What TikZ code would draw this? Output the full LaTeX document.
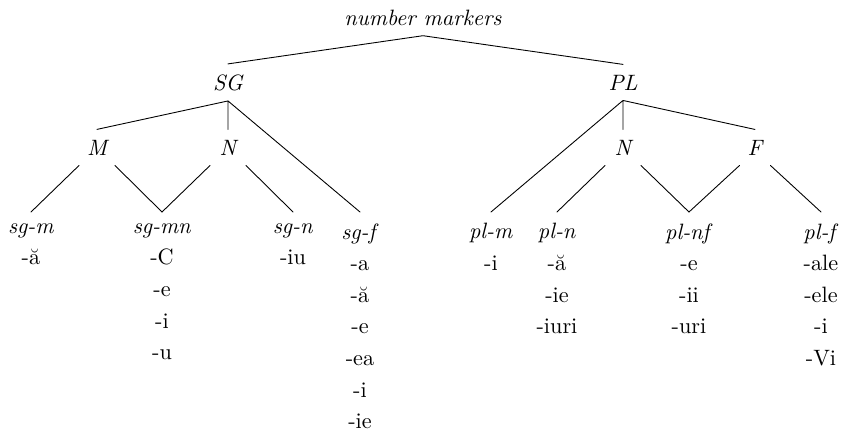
\documentclass[tikz,border=0pt]{standalone}
\usepackage{fontspec}
\begin{document}
\begin{tikzpicture}[x=0.45pt, y=-0.45pt, font=\fontsize{10}{14.2}\selectfont, line cap=round,
	cat/.style={inner xsep=0pt, inner ysep=4.5pt, minimum width=15.75pt, anchor=base, font=\itshape},
	leaf/.style={inner xsep=0pt, inner ysep=5pt, anchor=north, align=center}]
	\useasboundingbox (0,0) rectangle (846,435);
	% upper levels
	\node[cat] (nm) at (423,25) {number markers};
	\node[cat] (sg) at (228,90) {SG};
	\node[cat] (pl) at (623,90) {PL};
	\node[cat] (m) at (97,155) {M};
	\node[cat] (n) at (228,155) {N};
	\node[cat] (pn) at (623,155) {N};
	\node[cat, minimum width=13.5pt] (pf) at (755,155) {F};
	% leaves
	\node[leaf] (sgm) at (31,212) {\textit{sg-m}\\-ă};
	\node[leaf] (sgmn) at (162,212) {\textit{sg-mn}\\-C\\-e\\-i\\-u};
	\node[leaf] (sgn) at (293,212) {\textit{sg-n}\\-iu};
	\node[leaf] (sgf) at (360,212) {\textit{sg-f}\\-a\\-ă\\-e\\-ea\\-i\\-ie};
	\node[leaf] (plm) at (491,212) {\textit{pl-m}\\-i};
	\node[leaf] (pln) at (557,212) {\textit{pl-n}\\-ă\\-ie\\-iuri};
	\node[leaf] (plnf) at (689,212) {\textit{pl-nf}\\-e\\-ii\\-uri};
	\node[leaf] (plf) at (821,212) {\textit{pl-f}\\-ale\\-ele\\-i\\-Vi};
	% branches
	\draw (nm.south)--(sg.north) (nm.south)--(pl.north);
	\draw (sg.south)--(m.north) (sg.south)--(n.north) (sg.south)--(sgf.north);
	\draw (m.south west)--(sgm.north) (m.south east)--(sgmn.north);
	\draw (n.south west)--(sgmn.north) (n.south east)--(sgn.north);
	\draw (pl.south)--(plm.north) (pl.south)--(pn.north) (pl.south)--(pf.north);
	\draw (pn.south west)--(pln.north) (pn.south east)--(plnf.north);
	\draw (pf.south west)--(plnf.north) (pf.south east)--(plf.north);
\end{tikzpicture}
\end{document}
